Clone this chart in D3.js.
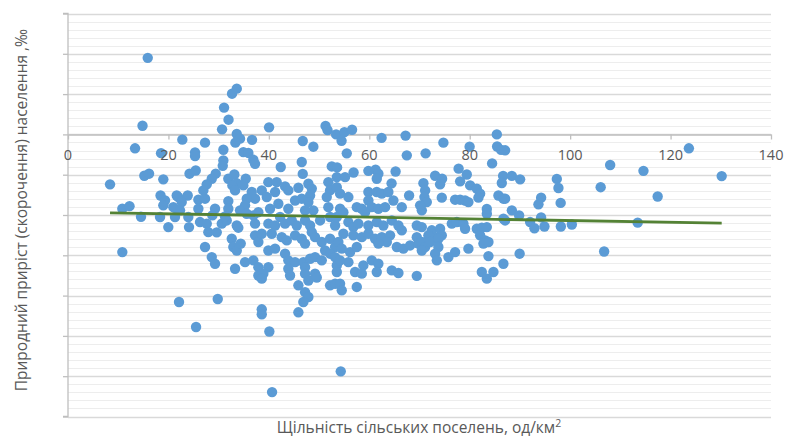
<!DOCTYPE html>
<html><head><meta charset="utf-8">
<script src="https://cdn.jsdelivr.net/npm/d3@7"></script>
<style>
body{margin:0;background:#fff}
svg{display:block}
text{font-family:"Open Sans",sans-serif;fill:#595959}
</style>
</head><body>
<svg id="chart" width="785" height="439"></svg>
<script>
// [density of rural settlements (units/km²), natural growth (‰)]
const samples = [
[8.37,-2.48],[10.82,-3.69],[12.25,-3.56],[10.82,-5.84],[13.35,-0.69],[14.54,-4.09],[14.84,0.43],[15.88,3.80],[15.20,-2.05],[16.14,-1.95],
[18.53,-0.93],[18.98,-2.23],[18.43,-3.03],[19.32,-3.28],[18.98,-3.52],[18.33,-4.10],[19.98,-4.60],[21.31,-4.10],[20.98,-3.61],[21.97,-3.11],
[22.11,-8.32],[22.77,-0.26],[27.29,-0.41],[25.30,-0.89],[25.30,-1.07],[24.20,-1.95],[25.44,-1.79],[21.65,-3.03],[23.84,-3.03],[22.65,-3.36],
[22.31,-3.77],[25.96,-3.24],[27.29,-3.19],[25.96,-3.69],[23.96,-4.10],[24.10,-4.60],[26.29,-4.35],[27.63,-4.43],[27.95,-4.85],[29.62,-4.86],
[27.29,-5.59],[28.63,-6.09],[29.28,-6.42],[25.50,-9.56],[29.82,-8.17],[29.42,-1.95],[28.63,-2.20],[27.63,-2.48],[26.95,-2.78],[29.28,-3.69],
[28.75,-4.02],[30.62,-4.43],[31.61,-4.27],[31.08,1.33],[31.97,0.73],[30.68,0.25],[32.67,2.02],[33.61,2.27],[33.61,0.02],[34.26,-0.21],
[33.33,-0.41],[36.65,-0.27],[30.94,-0.76],[30.94,-1.29],[30.82,-1.56],[34.92,-0.88],[35.92,-0.92],[36.91,-1.26],[37.25,-1.46],[31.93,-2.20],
[33.13,-1.99],[33.61,-2.42],[32.73,-2.53],[35.40,-2.20],[34.92,-2.53],[33.27,-2.78],[36.59,-2.86],[37.25,-3.19],[35.60,-3.19],[35.26,-3.52],
[31.93,-3.31],[31.93,-3.69],[31.27,-4.07],[34.26,-3.77],[35.60,-3.94],[36.91,-4.02],[33.61,-4.52],[33.92,-4.63],[37.25,-5.01],[37.91,-5.34],
[32.61,-5.18],[32.93,-5.59],[33.61,-5.76],[34.40,-5.42],[35.26,-6.34],[36.91,-6.25],[37.91,-6.59],[37.91,-7.00],[33.27,-6.67],[38.59,-8.68],
[38.59,-8.93],[40.10,-9.78],[40.64,-12.79],[54.32,-11.76],[45.88,-8.83],
[40.04,0.35],[46.75,-0.33],[48.86,-0.61],[51.29,0.42],[51.69,0.21],[53.39,0.00],[54.48,-0.32],[55.04,0.11],[56.57,0.23],
[42.37,-1.62],[46.55,-1.37],[46.75,-1.96],[52.53,-1.59],[53.59,-1.64],[39.90,-2.37],[41.57,-2.37],[43.23,-2.58],[43.88,-2.78],[38.59,-2.78],
[39.58,-3.11],[41.24,-2.86],[45.88,-2.65],[47.87,-2.45],[48.55,-2.69],[48.21,-3.03],[51.85,-2.37],[52.19,-2.78],[53.53,-2.62],[51.53,-3.11],
[45.22,-3.28],[46.55,-3.19],[47.87,-3.36],[48.86,-3.77],[47.21,-3.77],[40.24,-3.69],[41.89,-3.44],[43.88,-3.69],[42.23,-4.10],[37.91,-3.86],
[37.25,-4.43],[51.85,-3.61],[52.19,-4.10],[53.19,-4.52],[39.90,-4.43],[41.24,-4.52],[43.23,-4.43],[44.56,-4.27],[45.56,-4.52],[47.21,-4.27],
[48.21,-4.52],[48.55,-4.85],[50.20,-4.27],[38.59,-4.93],[40.58,-4.93],[42.57,-5.10],[43.57,-5.26],[45.22,-5.01],[46.55,-5.18],[47.21,-5.42],
[49.20,-5.10],[50.54,-5.34],[52.19,-5.18],[53.19,-5.59],[39.90,-5.76],[41.24,-5.67],[43.23,-5.92],[43.88,-6.25],[45.22,-6.34],[46.87,-6.34],
[48.21,-6.17],[49.20,-6.09],[50.54,-6.25],[51.20,-5.76],[52.19,-5.92],[53.19,-6.09],[53.53,-6.50],[47.21,-6.59],[47.21,-6.91],[47.87,-7.25],
[43.88,-6.67],[44.22,-7.00],[39.90,-6.59],[38.90,-6.91],[38.59,-7.16],[49.20,-6.91],[49.54,-7.10],[45.88,-7.49],[47.21,-7.83],[47.87,-8.07],
[46.87,-8.32],[52.19,-7.49],[53.19,-7.41],
[62.45,-0.17],[67.23,-0.06],[55.52,-0.94],[67.47,-1.04],[53.53,-2.12],[55.18,-2.12],[56.87,-1.89],[59.82,-1.81],[61.25,-1.75],[61.81,-1.95],
[61.49,-2.20],[65.24,-1.84],[64.44,-2.43],[67.93,-3.03],[54.18,-2.94],[55.84,-3.11],[59.82,-2.86],[61.49,-2.86],[62.49,-2.94],[63.80,-2.86],
[64.80,-3.28],[66.47,-3.61],[59.82,-3.28],[60.50,-3.61],[61.81,-3.69],[63.15,-3.61],[57.51,-3.61],[58.51,-3.69],[59.16,-3.86],[54.18,-3.69],
[53.53,-4.10],[54.84,-3.86],[55.84,-4.35],[56.83,-4.60],[57.83,-4.43],[59.82,-4.52],[61.49,-4.35],[62.81,-4.52],[64.48,-4.27],[65.80,-4.52],
[66.47,-4.76],[54.84,-4.93],[53.84,-5.34],[56.83,-5.01],[58.51,-5.10],[59.82,-4.93],[61.16,-5.18],[62.49,-5.10],[64.14,-5.01],[63.49,-5.34],
[61.81,-5.42],[65.48,-5.59],[66.79,-5.67],[68.13,-5.51],[69.46,-5.10],[69.78,-5.42],[54.52,-5.67],[56.18,-5.84],[57.51,-5.59],[54.18,-6.25],
[55.84,-6.34],[58.82,-6.50],[57.17,-6.83],[58.51,-6.91],[60.50,-6.25],[61.81,-6.42],[61.49,-6.83],[64.48,-6.75],[65.80,-6.88],[53.53,-6.83],
[54.18,-7.41],[54.52,-7.74],[57.51,-7.57],[69.46,-7.02],
[85.40,0.00],[85.46,-0.60],[86.25,-0.77],[74.76,-0.41],[79.98,-0.61],[71.22,-0.94],[84.46,-1.44],[77.79,-1.70],[79.42,-1.99],[78.09,-2.33],
[73.11,-2.05],[74.50,-2.20],[74.10,-2.48],[86.65,-2.06],[88.39,-2.06],[90.04,-2.23],[86.39,-2.41],[85.72,-3.03],[86.71,-3.19],[80.08,-2.53],
[81.41,-2.69],[82.07,-2.94],[81.73,-3.14],[70.78,-2.42],[71.12,-2.78],[70.98,-3.11],[71.45,-3.36],[70.46,-3.77],[70.12,-3.52],[74.44,-3.14],
[77.09,-3.24],[78.09,-3.24],[79.08,-3.28],[79.74,-3.36],[83.41,-3.70],[83.41,-3.94],[86.71,-4.18],[69.46,-4.52],[70.46,-4.60],[72.45,-4.76],
[74.10,-4.68],[74.44,-5.01],[73.11,-5.10],[71.77,-5.01],[76.43,-4.43],[77.43,-4.35],[78.75,-4.43],[79.08,-4.68],[81.41,-4.68],[82.41,-4.63],
[83.41,-4.60],[82.07,-5.01],[83.07,-5.26],[82.73,-5.42],[83.73,-5.34],[70.46,-5.34],[71.12,-5.59],[72.11,-5.34],[73.76,-5.18],[73.76,-5.59],
[73.11,-5.92],[70.46,-5.76],[79.74,-5.67],[75.76,-6.09],[77.09,-5.84],[73.45,-6.25],[83.73,-6.04],[86.71,-6.42],[82.41,-6.83],[83.41,-7.16],
[84.72,-6.83],
[87.05,-0.79],[87.05,-3.19],[88.39,-3.77],[89.84,-4.02],[87.05,-4.27],[92.03,-4.35],[92.89,-4.66],[94.22,-3.14],[93.69,-3.47],[94.22,-4.12],
[94.88,-4.57],[97.35,-2.21],[97.67,-2.66],[98.11,-3.40],[98.15,-4.57],[100.34,-4.47],[89.94,-5.92],[107.97,-1.52],[106.08,-2.62],[114.60,-1.81],
[117.43,-3.08],[113.45,-4.38],[106.77,-5.81],[123.65,-0.69],[130.18,-2.07]
];
const xTicks = [0, 20, 40, 60, 80, 100, 120, 140];
const xDomain = [0, 140];
const yDomain = [-14, 6];
const yMajorStep = 2;
const yMinorPerMajor = 5;
const trendIntercept = -3.855;
const trendSlope = -0.0042;
const xTitle = "Щільність сільських поселень, од/км";
const xTitleSup = "2";
const yTitle = "Природний приріст (скорочення) населення ,‰";

const svg = d3.select("#chart");
const x = d3.scaleLinear().domain(xDomain).range([68, 771]);
const y = d3.scaleLinear().domain(yDomain).range([416.5, 13.5]);

const nMajor = Math.round((yDomain[1] - yDomain[0]) / yMajorStep);
const majors = d3.range(nMajor + 1).map(i => yDomain[0] + i * yMajorStep);
const minors = d3.range(nMajor * yMinorPerMajor + 1)
  .filter(i => i % yMinorPerMajor !== 0)
  .map(i => yDomain[0] + i * yMajorStep / yMinorPerMajor);

const grid = svg.append("g");
grid.selectAll("line.minor").data(minors).join("line")
  .attr("x1", x(xDomain[0])).attr("x2", x(xDomain[1]))
  .attr("y1", d => Math.round(y(d)) + 0.5).attr("y2", d => Math.round(y(d)) + 0.5)
  .attr("stroke", "#ededed").attr("stroke-width", 1);
grid.selectAll("line.major").data(majors).join("line")
  .attr("x1", x(xDomain[0])).attr("x2", x(xDomain[1]))
  .attr("y1", d => Math.round(y(d)) + 0.5).attr("y2", d => Math.round(y(d)) + 0.5)
  .attr("stroke", "#d9d9d9").attr("stroke-width", 1.3);

// y axis (no labels)
const yAxis = d3.axisLeft(y).tickValues(majors).tickSize(5).tickFormat("");
svg.append("g").attr("transform", `translate(${x(0)},0)`).call(yAxis)
  .call(g => g.selectAll("path,line").attr("stroke", "#bfbfbf").attr("stroke-width", 1.3))
  .call(g => g.select(".domain").attr("d", `M-5,${y(yDomain[1])}H0V${y(yDomain[0])}H-5`));

// x axis line at y=0
const xAxis = d3.axisBottom(x).tickValues(xTicks).tickSize(5).tickSizeOuter(0).tickFormat("");
svg.append("g").attr("transform", `translate(0,${Math.round(y(0)) + 0.5})`).call(xAxis)
  .call(g => g.selectAll("path,line").attr("stroke", "#bfbfbf").attr("stroke-width", 1.3));

// points
svg.append("g").selectAll("circle").data(samples).join("circle")
  .attr("cx", d => x(d[0])).attr("cy", d => y(d[1])).attr("r", 5.2)
  .attr("fill", "#5b9bd5");

// trend line
const xExt = d3.extent(samples, d => d[0]);
svg.append("line")
  .attr("x1", x(xExt[0])).attr("y1", y(trendIntercept + trendSlope * xExt[0]))
  .attr("x2", x(xExt[1])).attr("y2", y(trendIntercept + trendSlope * xExt[1]))
  .attr("stroke", "#548235").attr("stroke-width", 2.8);

// x tick labels
svg.append("g").selectAll("text").data(xTicks).join("text")
  .attr("x", d => x(d)).attr("y", y(0) + 26)
  .attr("text-anchor", "middle").attr("font-size", 14.5)
  .text(d => d);

// titles
const xt = svg.append("text").attr("x", 419).attr("y", 433)
  .attr("text-anchor", "middle").attr("font-size", 15.5);
xt.append("tspan").text(xTitle);
xt.append("tspan").attr("dy", -6).attr("font-size", 10.5).text(xTitleSup);

svg.append("text").attr("transform", "translate(27,210) rotate(-90)")
  .attr("text-anchor", "middle").attr("font-size", 15.5)
  .text(yTitle);
</script>
</body></html>
